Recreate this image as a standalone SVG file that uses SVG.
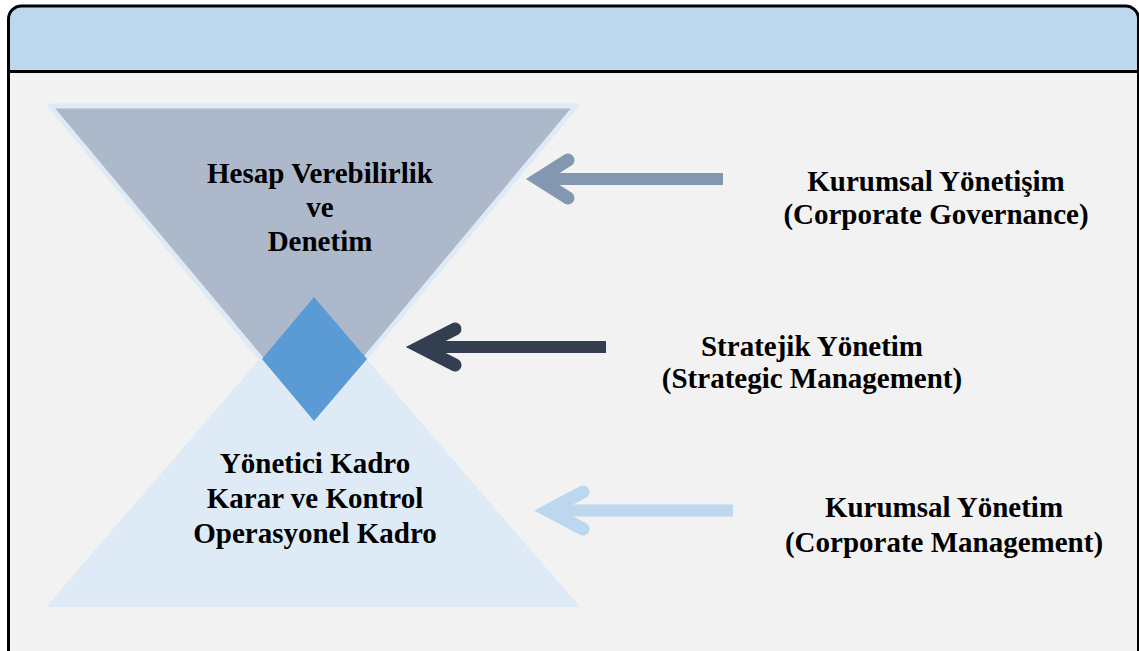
<svg xmlns="http://www.w3.org/2000/svg" width="1139" height="651" viewBox="0 0 1139 651">
  <defs>
    <style>
      .lbl { font-family: "Liberation Serif", "Times New Roman", serif; font-weight: bold; font-size: 29px; fill: #000; text-anchor: middle; }
      .shaft { fill: none; stroke-width: 12; stroke-linecap: butt; }
      .head { fill: none; stroke-width: 13; stroke-linecap: round; stroke-linejoin: miter; stroke-miterlimit: 6; }
    </style>
    <clipPath id="frameClip">
      <rect x="8.5" y="6" width="1130" height="700" rx="13" ry="13"/>
    </clipPath>
  </defs>

  <!-- page background -->
  <rect x="0" y="0" width="1139" height="651" fill="#ffffff"/>

  <!-- panel body and header band -->
  <g id="panel">
    <rect x="8.5" y="6" width="1130" height="700" rx="13" ry="13" fill="#f2f2f2"/>
    <rect x="8.5" y="6" width="1130" height="65" fill="#bdd7ee" clip-path="url(#frameClip)"/>
    <line x1="8.5" y1="71.5" x2="1139" y2="71.5" stroke="#000" stroke-width="3"/>
    <rect x="8.5" y="6" width="1130" height="700" rx="13" ry="13" fill="none" stroke="#000" stroke-width="3"/>
  </g>

  <!-- lower triangle: management levels -->
  <g id="lower-triangle">
    <polygon points="313,297 580,607 46,607" fill="#deeaf6"/>
    <text class="lbl" x="315" y="473">Yönetici Kadro</text>
    <text class="lbl" x="315" y="508">Karar ve Kontrol</text>
    <text class="lbl" x="315" y="543">Operasyonel Kadro</text>
  </g>

  <!-- upper inverted triangle: accountability and audit -->
  <g id="upper-triangle">
    <polygon points="50,106 576,106 313,421" fill="#adb9ca" stroke="#deeaf6" stroke-width="5" stroke-linejoin="round"/>
    <text class="lbl" x="320" y="183">Hesap Verebilirlik</text>
    <text class="lbl" x="320" y="217">ve</text>
    <text class="lbl" x="320" y="251">Denetim</text>
  </g>

  <!-- diamond where the two triangles meet -->
  <g id="diamond">
    <polygon points="314,297 367,359 314,421 262,359" fill="#5b9bd5"/>
  </g>

  <!-- arrows pointing at the triangles -->
  <g id="connectors">
    <g id="arrow-governance" stroke="#8497b0">
      <line class="shaft" x1="545" y1="179" x2="723" y2="179"/>
      <path class="head" d="M568,160 L538,179 L568,198"/>
    </g>
    <g id="arrow-strategic" stroke="#333f50">
      <line class="shaft" x1="425" y1="347" x2="606" y2="347"/>
      <path class="head" d="M455,329 L420,347 L455,365"/>
    </g>
    <g id="arrow-management" stroke="#bdd7ee">
      <line class="shaft" x1="555" y1="510.5" x2="733" y2="510.5"/>
      <path class="head" d="M583,492 L548,510.5 L583,529"/>
    </g>
  </g>

  <!-- labels on the right -->
  <g id="label-governance">
    <text class="lbl" x="936" y="191">Kurumsal Yönetişim</text>
    <text class="lbl" x="936" y="224">(Corporate Governance)</text>
  </g>
  <g id="label-strategic">
    <text class="lbl" x="812" y="356">Stratejik Yönetim</text>
    <text class="lbl" x="812" y="388">(Strategic Management)</text>
  </g>
  <g id="label-management">
    <text class="lbl" x="944" y="517">Kurumsal Yönetim</text>
    <text class="lbl" x="944" y="552">(Corporate Management)</text>
  </g>
</svg>
